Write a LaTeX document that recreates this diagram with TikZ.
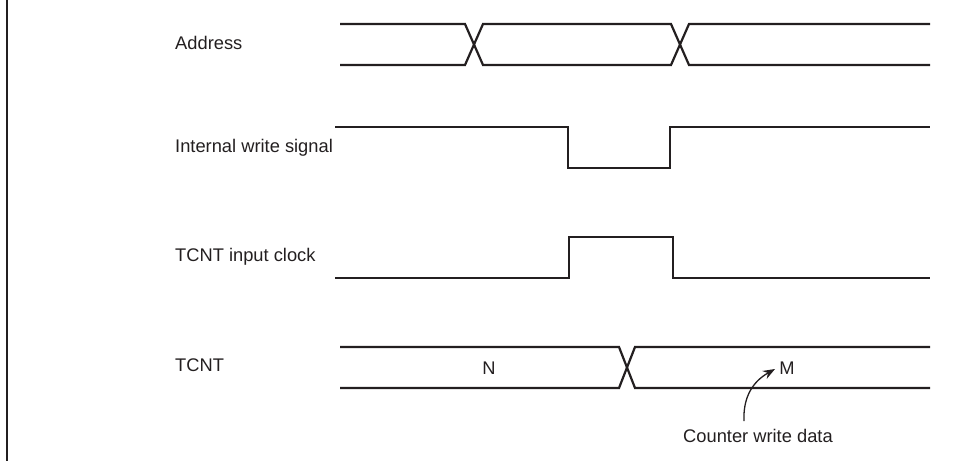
\documentclass[tikz,border=0pt]{standalone}
\usepackage{fontspec}
\setmainfont{Liberation Sans}
\usetikzlibrary{arrows.meta}
\definecolor{ink}{HTML}{231F20}
\begin{document}
\begin{tikzpicture}[x=1pt,y=-1pt,
  sig/.style={line width=2.2pt, line join=miter, draw=ink},
  lbl/.style={anchor=base west, inner sep=0pt, text=ink, font=\fontsize{18.3}{22}\selectfont},
  val/.style={anchor=base, inner sep=0pt, text=ink, font=\fontsize{18.3}{22}\selectfont}]
\useasboundingbox (0,0) rectangle (973,461);
\draw[sig] (7,0) -- (7,461);

% labels
\node[lbl] (laddr) at (175,49) {Address};
\node[lbl] (lwr) at (175,152) {Internal write signal};
\node[lbl] (lclk) at (175,261) {TCNT input clock};
\node[lbl] (ltcnt) at (175,371) {TCNT};

% Address bus
\draw[sig] (340,24) -- (465,24) -- (483,65) -- (671,65) -- (689,24) -- (930,24);
\draw[sig] (340,65) -- (465,65) -- (483,24) -- (671,24) -- (689,65) -- (930,65);

% Internal write signal
\draw[sig] (335,127) -- (568,127) -- (568,168) -- (670,168) -- (670,127) -- (930,127);

% TCNT input clock
\draw[sig] (335,278) -- (569,278) -- (569,237) -- (673,237) -- (673,278) -- (930,278);

% TCNT bus
\draw[sig] (340,347) -- (619,347) -- (635,388) -- (930,388);
\draw[sig] (340,388) -- (619,388) -- (635,347) -- (930,347);
\node[val] (vn) at (489,374) {N};
\node[val] (vm) at (787,374) {M};

% annotation
\node[lbl] (cwd) at (683,442) {Counter write data};
\coordinate (astart) at (744,421);
\coordinate (aend) at (775,369);
\draw[ink, line width=1.3pt, -{Stealth[length=12pt,width=9pt]}]
  (astart) .. controls (743,398) and (752,382) .. (aend);
\end{tikzpicture}
\end{document}
